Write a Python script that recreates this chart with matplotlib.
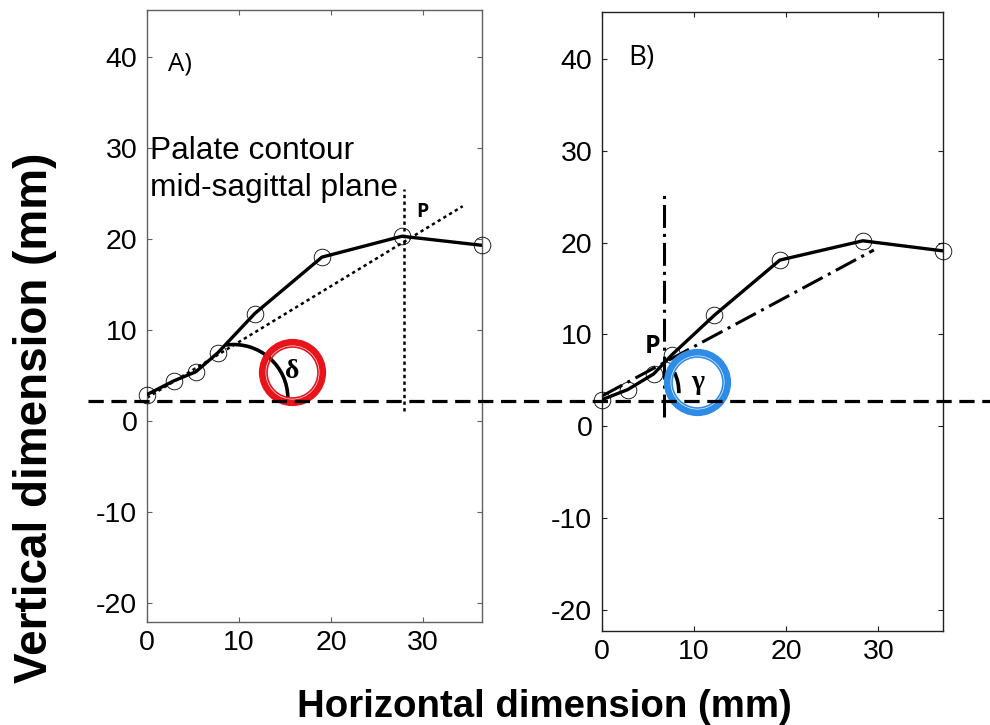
import matplotlib as mpl
mpl.use('Agg')
import matplotlib.pyplot as plt
from matplotlib.patches import Arc
from matplotlib.lines import Line2D

plt.rcParams['font.family'] = ['Liberation Sans', 'DejaVu Sans']
plt.rcParams['axes.unicode_minus'] = False
plt.rcParams['lines.scale_dashes'] = False

# palate contour, panel A and panel B (mm)
xa = [0, 2.9, 5.3, 7.7, 11.7, 19.0, 27.7, 36.4]
ya = [2.9, 4.4, 5.4, 7.5, 11.8, 18.0, 20.3, 19.3]
xb = [0, 2.8, 5.6, 7.6, 12.2, 19.3, 28.3, 37.0]
yb = [2.9, 4.0, 5.7, 7.8, 12.1, 18.1, 20.2, 19.1]

xticks = [0, 10, 20, 30]
yticks = [-20, -10, 0, 10, 20, 30, 40]

# construction lines
tanA_x = [0, 34.3]
tanA_y = [2.55, 23.6]
vertA_x = [27.9, 27.9]
vertA_y = [1.1, 25.5]
tanB_x = [0, 29.5]
tanB_y = [3.3, 19.2]
vertB_x = [6.7, 6.7]
vertB_y = [1.05, 25.6]

# angle arcs: centre, radius, start/end angle
arcA = dict(c=(9.4, 2.5), r=5.9, t=(0, 98))
arcB = dict(c=(3.2, 3.7), r=5.14, t=(-1, 25))

# angle symbols
deltaA = (15.76, 5.42)
gammaB = (10.33, 4.78)

fig = plt.figure(figsize=(9.9, 7.25), dpi=100)
axA = fig.add_axes([0.1485, 0.1421, 0.3384, 0.8441])
axB = fig.add_axes([0.6081, 0.1297, 0.3444, 0.8538])


def prepara(ax, xmax, ylim, cor):
    ax.set_xlim(0, xmax)
    ax.set_ylim(ylim)
    ax.set_xticks(xticks)
    ax.set_yticks(yticks)
    ax.tick_params(direction='in', top=True, right=True, length=3.6, width=0.8,
                   labelsize=20.5, color=cor)
    ax.tick_params(axis='x', pad=6)
    ax.tick_params(axis='y', pad=7)
    for s in ax.spines.values():
        s.set_color(cor)
        s.set_linewidth(1.0)


def contorno(ax, x, y):
    ax.plot(x, y, color='black', lw=2.4, solid_capstyle='round', zorder=3)
    ax.plot(x, y, 'o', ms=12, mfc='none', mec='black', mew=0.6, clip_on=False, zorder=4)


def anel(ax, pos, cor, simbolo):
    ax.plot(pos[0], pos[1], 'o', ms=43.6, mfc='none', mec=cor, mew=4.8, zorder=6)
    ax.plot(pos[0], pos[1], 'o', ms=36.7, mfc='none', mec=cor, mew=1.2, zorder=6)
    ax.text(pos[0], pos[1], simbolo, ha='center', va='center', fontsize=20,
            fontweight='bold', family=['Liberation Serif', 'DejaVu Serif'], zorder=7)


def arco(ax, a):
    ax.add_patch(Arc(a['c'], 2 * a['r'], 2 * a['r'], theta1=a['t'][0], theta2=a['t'][1],
                     color='black', lw=2.6, zorder=5))


# panel A
prepara(axA, xa[-1], (-22.09, 45.16), '#606060')
axA.plot(tanA_x, tanA_y, color='black', lw=1.8, dashes=(2.4, 2.4), zorder=2)
axA.plot(vertA_x, vertA_y, color='black', lw=1.8, dashes=(2.4, 2.4), zorder=2)
contorno(axA, xa, ya)
arco(axA, arcA)
anel(axA, deltaA, '#e8141c', 'δ')
axA.text(29.2, 22.4, 'P', fontsize=14, fontweight='bold', family=['Open Sans', 'DejaVu Sans'])
axA.text(2.28, 38.5, 'A)', fontsize=18.5, family=['Open Sans', 'DejaVu Sans'])
axA.text(0.3, 28.8, 'Palate contour', fontsize=22.8)
axA.text(0.3, 24.7, 'mid-sagittal plane', fontsize=22.8)

# panel B
prepara(axB, xb[-1], (-22.29, 45.12), '#202020')
axB.plot(tanB_x, tanB_y, color='black', lw=2.2, dashes=(16.5, 4.3, 2.2, 4.3), zorder=2)
axB.plot(vertB_x, vertB_y, color='black', lw=2.2, dashes=(16.5, 4.3, 2.2, 4.3), zorder=2)
contorno(axB, xb, yb)
arco(axB, arcB)
anel(axB, gammaB, '#2f8ce6', 'γ')
axB.text(4.6, 8.0, 'P', fontsize=17.8, fontweight='bold', family=['Open Sans', 'DejaVu Sans'])
axB.text(2.86, 39.3, 'B)', fontsize=20, family=['Open Sans', 'DejaVu Sans'])

# horizontal reference line across both panels
fig.add_artist(Line2D([88 / 990, 1.0], [1 - 401 / 725, 1 - 401 / 725], color='black',
                      lw=2.3, dashes=(11, 5.5), transform=fig.transFigure, zorder=1))

fig.text(35 / 990, 1 - 418 / 725, 'Vertical dimension (mm)', rotation=90, ha='center',
         va='center', fontsize=33, fontweight='bold')
fig.text(544 / 990, 1 - 717 / 725, 'Horizontal dimension (mm)', ha='center', va='baseline',
         fontsize=27.6, fontweight='bold')

fig.savefig('out.png', dpi=100)
